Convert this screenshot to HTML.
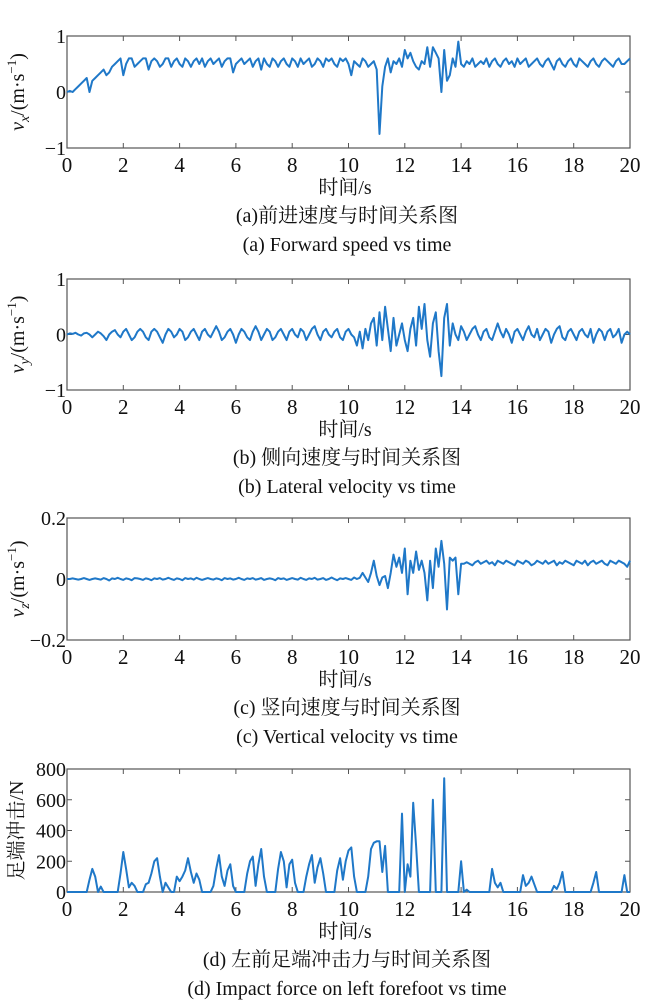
<!DOCTYPE html>
<html><head><meta charset="utf-8"><style>
html,body{margin:0;padding:0;background:#fff}
svg{display:block}
text{font-family:"Liberation Serif","Noto Serif CJK SC","Noto Sans CJK SC",serif;fill:#111}
</style></head><body>
<svg id="fig" width="648" height="1000" viewBox="0 0 648 1000" xmlns="http://www.w3.org/2000/svg"></svg>
<script>
const xTicks=[0,2,4,6,8,10,12,14,16,18,20];
const dt=0.1;
const vx=[0,0.02,0,0.05,0.1,0.15,0.2,0.25,0,0.2,0.25,
0.3,0.35,0.4,0.3,0.35,0.45,0.5,0.55,0.6,0.3,
0.5,0.6,0.6,0.45,0.5,0.55,0.6,0.6,0.4,0.55,
0.6,0.55,0.45,0.5,0.6,0.6,0.45,0.55,0.6,0.5,
0.45,0.6,0.55,0.45,0.55,0.6,0.5,0.6,0.45,0.55,
0.6,0.5,0.55,0.6,0.45,0.55,0.6,0.6,0.35,0.5,
0.55,0.6,0.5,0.55,0.6,0.45,0.55,0.6,0.4,0.6,
0.5,0.45,0.6,0.55,0.45,0.55,0.6,0.5,0.45,0.6,
0.55,0.45,0.6,0.5,0.55,0.6,0.45,0.5,0.6,0.55,
0.45,0.6,0.55,0.6,0.5,0.45,0.6,0.55,0.6,0.5,
0.3,0.55,0.5,0.45,0.6,0.55,0.45,0.5,0.55,0.4,
-0.75,0.1,0.45,0.6,0.35,0.55,0.5,0.6,0.45,0.75,
0.6,0.7,0.55,0.45,0.4,0.55,0.5,0.8,0.45,0.8,
0.7,0.6,0.0,0.75,0.2,0.3,0.6,0.45,0.9,0.5,
0.45,0.55,0.5,0.6,0.45,0.5,0.55,0.5,0.6,0.45,
0.55,0.6,0.5,0.45,0.55,0.6,0.5,0.55,0.45,0.6,
0.5,0.55,0.6,0.45,0.5,0.55,0.6,0.5,0.45,0.55,
0.6,0.5,0.4,0.55,0.6,0.5,0.45,0.55,0.6,0.5,
0.45,0.6,0.55,0.5,0.45,0.55,0.6,0.5,0.45,0.55,
0.6,0.55,0.5,0.45,0.55,0.6,0.5,0.5,0.55,0.6];
const vy=[0,0.02,0.01,0.03,0,-0.02,0.02,0.03,0,-0.05,0,
0.05,0.02,-0.03,-0.1,0,0.05,0.08,0,-0.05,0.05,
0.1,0,-0.1,-0.05,0.05,0.1,0.05,-0.05,-0.1,0.05,
0.1,0.05,-0.05,-0.15,0,0.1,0.05,-0.05,0,0.1,
0.05,-0.1,-0.05,0.05,0.1,0,-0.1,0.05,0.1,0,
-0.05,0.05,0.15,0.05,-0.1,-0.05,0.05,0.1,0,-0.15,
0,0.1,0.05,-0.05,-0.1,0.05,0.15,0.05,-0.1,0,
0.1,0.05,-0.1,-0.05,0.05,0.1,0,-0.1,0.05,0.1,
0,-0.05,0.1,0.05,-0.1,0,0.1,0.15,0,-0.1,
0.05,0.1,0,-0.05,0.05,0.1,-0.05,-0.1,0.05,0.1,
0,-0.05,-0.2,0.05,-0.25,0.1,-0.1,0.2,0.3,-0.2,
0.4,-0.1,0.5,0.1,-0.3,0.3,-0.2,0,0.2,-0.1,
-0.3,0.1,0.3,-0.2,0.5,0.1,0.55,-0.1,-0.4,0.2,
0.4,-0.3,-0.75,0.3,0.55,-0.2,0.2,0,-0.1,0.15,
0.05,-0.1,0,0.1,0.15,0,-0.1,0.05,0.1,-0.05,
-0.1,0.05,0.2,0.05,-0.05,0.1,0,-0.15,0.05,0.1,
0,-0.1,0.05,0.15,0,-0.05,0.1,-0.1,0,0.1,
0.05,-0.15,0,0.1,0.15,-0.05,-0.1,0.05,0.1,0,
-0.1,0.05,0.1,0,-0.05,0.1,-0.15,0,0.1,0.05,
-0.1,0.05,0.1,-0.05,0,0.1,-0.15,0,0.05,0];
const vz=[0,0,0.002,0,-0.002,0,0.003,0,-0.003,0,
0.002,0,-0.002,0.003,0,-0.005,0.002,0,0.004,0,
-0.003,0.002,0,-0.004,0.003,0.002,0,-0.003,0.002,0,
-0.004,0.002,0,0.003,-0.002,0,0.004,0,-0.003,0.002,
0,-0.004,0.003,0,0.002,-0.002,0.004,0,-0.003,0,
0.003,0,-0.002,0.002,0,-0.004,0.003,0,0.002,-0.002,
0,0.004,0,-0.003,0.002,0,0.003,-0.002,0,0.003,
-0.003,0,0.002,0,-0.004,0.003,0,0.002,-0.003,0,
0.003,0,-0.002,0.004,0,-0.003,0.002,0,0.004,-0.002,
0,0.003,-0.003,0,0.005,0,-0.004,0.002,0,0.003,
0,-0.003,0.005,0,0.004,
0.02,0.005,-0.01,0.02,0.06,0.01,-0.02,0.005,0.01,-0.03,
0.02,0.08,0.04,0.07,0.02,0.1,-0.05,0.06,0.02,0.09,
0.03,0.06,0.02,-0.07,0.06,-0.03,0.1,0.04,0.125,0.05,
-0.1,0.07,0.06,0.07,-0.05,0.05,
0.05,0.055,0.05,0.045,0.055,0.06,0.05,0.055,0.06,0.05,
0.055,0.045,0.06,0.055,0.05,0.06,0.055,0.05,0.045,0.06,
0.055,0.05,0.06,0.055,0.045,0.05,0.06,0.055,0.05,0.06,
0.05,0.055,0.06,0.045,0.055,0.05,0.06,0.055,0.05,0.045,
0.06,0.055,0.05,0.06,0.045,0.055,0.06,0.05,0.055,0.06,
0.05,0.045,0.06,0.055,0.05,0.06,0.055,0.05,0.04,0.06];
const force=[0,0,0,0,0,0,0,0,80,150,
100,0,35,0,0,0,0,0,0,120,
260,150,30,60,40,0,0,0,50,60,
120,200,220,100,0,60,30,0,0,100,
70,100,140,220,130,60,120,80,0,0,
0,0,40,150,240,100,40,140,180,40,
0,0,0,0,120,200,230,40,180,280,
100,0,0,0,0,150,260,200,30,180,
210,60,0,0,0,100,180,240,60,160,
220,120,0,0,0,0,140,220,80,200,
270,290,100,0,0,0,0,100,280,320,
330,330,130,300,0,0,0,0,0,510,
0,180,100,580,300,0,0,0,0,0,
600,0,0,0,740,0,0,0,0,0,
200,0,15,0,0,0,0,0,0,0,
0,150,60,30,60,0,0,0,0,0,
0,0,110,40,60,100,50,0,0,0,
0,0,0,40,20,60,130,0,0,0,
0,0,0,0,0,0,0,60,130,0,
0,0,0,0,0,0,0,0,110,0,
0];
const yTicksA=[-1,0,1], yTicksB=[-1,0,1], yTicksC=[-0.2,0,0.2], yTicksD=[0,200,400,600,800];
const yLabelsC=["\u22120.2","0","0.2"], yLabelsAB=["\u22121","0","1"];

const NS="http://www.w3.org/2000/svg";
const svg=document.getElementById('fig');
function el(tag,attrs,parent){const e=document.createElementNS(NS,tag);for(const k in attrs)e.setAttribute(k,attrs[k]);(parent||svg).appendChild(e);return e;}
const X0=67,X1=630;
function xs(t){return X0+(t-0)/(20-0)*(X1-X0);}

function panel(key,top,bot,ymin,ymax,yt,ylabels,data,ytitleFn,cap1,cap2){
  const g=el('g',{});
  
  
  const ys=v=>bot-(v-ymin)/(ymax-ymin)*(bot-top);
  const box=el('rect',{x:X0,y:top,width:X1-X0,height:bot-top,fill:'none',stroke:'#555','stroke-width':1.2},g);
  
  
  xTicks.forEach(t=>{
    const x=xs(t);
    el('line',{x1:x,x2:x,y1:bot,y2:bot-5,stroke:'#555'},g);
    el('line',{x1:x,x2:x,y1:top,y2:top+5,stroke:'#555'},g);
    const tx=el('text',{x:x,y:bot+24,'text-anchor':'middle','font-size':21},g);
    tx.textContent=t;
    
    
  });
  yt.forEach((v,i)=>{
    const y=ys(v);
    el('line',{x1:X0,x2:X0+5,y1:y,y2:y,stroke:'#555'},g);
    el('line',{x1:X1,x2:X1-5,y1:y,y2:y,stroke:'#555'},g);
    const tx=el('text',{x:X0-1,y:y+7,'text-anchor':'end','font-size':20},g);
    tx.textContent=ylabels[i];
    
    
  });
  let d='';
  data.forEach((v,i)=>{d+=(i?'L':'M')+xs(i*dt).toFixed(1)+','+ys(v).toFixed(1);});
  const p=el('path',{d:d,fill:'none',stroke:'#1f78c8','stroke-width':2,'stroke-linejoin':'round'},g);
  
  
  ytitleFn(g,(top+bot)/2);
  const xl=el('text',{x:345,y:bot+46,'text-anchor':'middle','font-size':20},g);
  xl.textContent='时间/s';
  
  
  const c1=el('text',{x:347,y:bot+74,'text-anchor':'middle','font-size':20},g);
  c1.textContent=cap1;
  
  
  const c2=el('text',{x:347,y:bot+103,'text-anchor':'middle','font-size':20},g);
  c2.textContent=cap2;
  
  
}
function vTitle(sub){
  return function(g,cy){
    const t=el('text',{transform:'translate(24,'+cy+') rotate(-90)','text-anchor':'middle','font-size':20},g);
    t.innerHTML='<tspan font-style="italic">v</tspan><tspan font-style="italic" font-size="14" dy="5">'+sub+'</tspan><tspan dy="-5">/(m·s</tspan><tspan font-size="13" dy="-8">−1</tspan><tspan dy="8">)</tspan>';
    
    
  };
}
function fTitle(g,cy){
  const t=el('text',{transform:'translate(23,'+cy+') rotate(-90)','text-anchor':'middle','font-size':20},g);
  t.textContent='足端冲击/N';
  
  
}
panel('a',36,148,-1,1,yTicksA,yLabelsAB,vx,vTitle('x'),'(a)前进速度与时间关系图','(a) Forward speed vs time');
panel('b',279,390,-1,1,yTicksB,yLabelsAB,vy,vTitle('y'),'(b) 侧向速度与时间关系图','(b) Lateral velocity vs time');
panel('c',518,640,-0.2,0.2,yTicksC,yLabelsC,vz,vTitle('z'),'(c) 竖向速度与时间关系图','(c) Vertical velocity vs time');
panel('d',769,892,0,800,yTicksD,yTicksD.map(String),force,fTitle,'(d) 左前足端冲击力与时间关系图','(d) Impact force on left forefoot vs time');
</script>
</body></html>
